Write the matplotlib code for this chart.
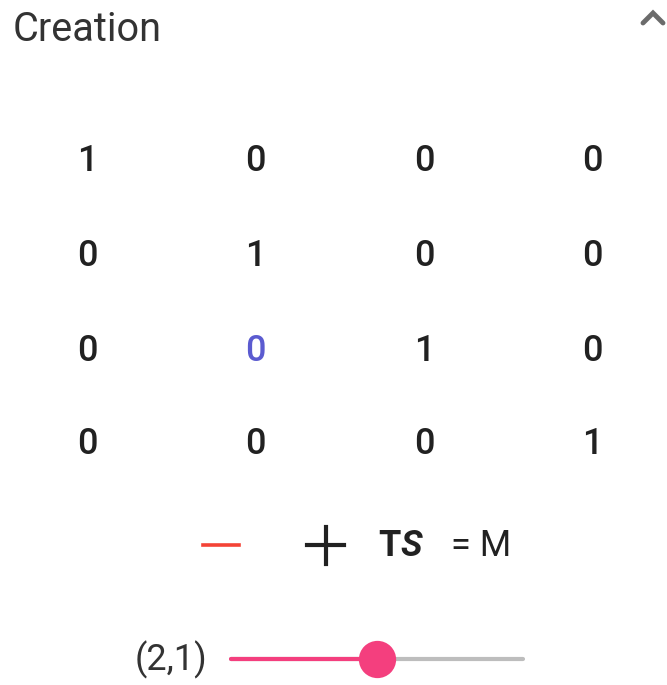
import numpy as np
import matplotlib.pyplot as plt

plt.rcParams['font.family'] = ['Roboto', 'DejaVu Sans']

# Data
title = "Creation"
matrix = [[1, 0, 0, 0],
          [0, 1, 0, 0],
          [0, 0, 1, 0],
          [0, 0, 0, 1]]
highlight = (2, 1)          # (row, col) of the selected cell
slider_label = "(2,1)"
slider_min, slider_max, slider_value = 0.0, 1.0, 0.5

fig = plt.figure(figsize=(6.67, 6.85), dpi=100)
ax = fig.add_axes([0, 0, 1, 1])
ax.set_xlim(0, 667)
ax.set_ylim(685, 0)
ax.axis('off')

# header
ax.text(13, 29, title, fontsize=28.5, color='#333333', va='center', ha='left')
ax.plot([643, 653, 663], [23, 13, 23], color='#6b6b6b', lw=3.5,
        solid_capstyle='round', solid_joinstyle='miter')

# matrix
col_x = [87, 255, 424, 592]
row_y = [161, 256, 351, 444]
for i, row in enumerate(matrix):
    for j, v in enumerate(row):
        c = '#5b5bd0' if (i, j) == highlight else '#212121'
        ax.text(col_x[j], row_y[i], str(v), fontsize=26, color=c,
                ha='center', va='center', fontweight='medium')

# operations row
ax.plot([203, 239], [545, 545], color='#f44336', lw=2.6)
ax.plot([307, 344], [545, 545], color='#212121', lw=3)
ax.plot([325.5, 325.5], [527, 564], color='#212121', lw=3)
ax.text(378, 546, 'T', fontsize=26, fontweight='bold', color='#212121', va='center', ha='left')
ax.text(400, 546, 'S', fontsize=26, fontweight='bold', style='italic', color='#212121',
        va='center', ha='left')
ax.text(451, 546, '= M', fontsize=26, color='#212121', va='center', ha='left')

# slider
x0, x1 = 231, 523
xv = x0 + (slider_value - slider_min) / (slider_max - slider_min) * (x1 - x0)
ax.text(207, 660, slider_label, fontsize=26, color='#333333', va='center', ha='right')
ax.plot([x0, x1], [659, 659], color='#bdbdbd', lw=3, solid_capstyle='round')
ax.plot([x0, xv], [659, 659], color='#f43f7e', lw=3, solid_capstyle='round')
ax.scatter([xv], [659], s=720, color='#f43f7e', zorder=3, linewidths=0)

fig.savefig('out.png', dpi=100)
